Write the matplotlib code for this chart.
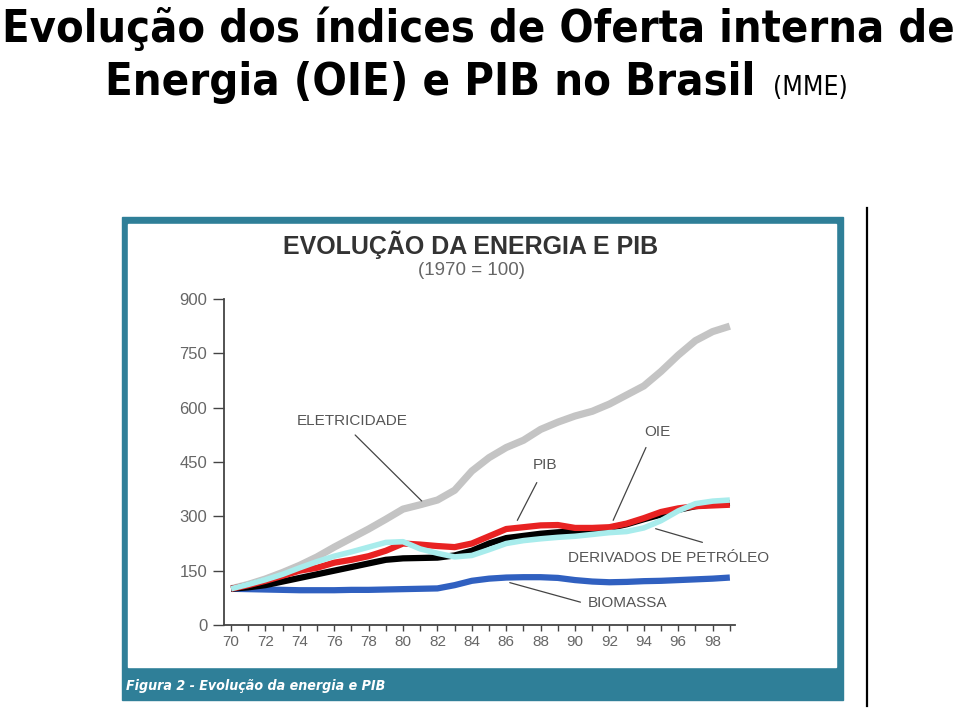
import numpy as np
import matplotlib
matplotlib.use("Agg")
import matplotlib.pyplot as plt
from matplotlib.patches import Rectangle
from matplotlib.lines import Line2D
from matplotlib import font_manager
from matplotlib.font_manager import FontProperties

plt.rcParams["font.family"] = ["Liberation Sans", "DejaVu Sans"]

# Data (1970 = 100)
anos = list(range(70, 100))
eletricidade = [100, 112, 127, 145, 165, 188, 215, 240, 265, 292,
                320, 332, 345, 372, 425, 462, 490, 510, 540, 560,
                577, 590, 610, 635, 660, 700, 745, 785, 810, 825]
pib = [100, 110, 122, 136, 150, 158, 172, 180, 190, 205,
       225, 222, 218, 215, 225, 245, 265, 270, 275, 276,
       268, 268, 270, 280, 295, 312, 322, 328, 330, 332]
oie = [100, 104, 110, 120, 130, 140, 150, 160, 170, 180,
       184, 185, 186, 192, 205, 225, 240, 246, 252, 256,
       258, 262, 268, 278, 292, 305, 318, 328, 333, 337]
derivados = [100, 112, 125, 140, 158, 175, 190, 202, 215, 228,
             230, 210, 198, 188, 192, 208, 225, 233, 238, 242,
             245, 250, 255, 258, 268, 288, 315, 335, 342, 345]
biomassa = [100, 99, 98, 97, 96, 96, 96, 97, 97, 98,
            99, 100, 101, 110, 122, 128, 131, 132, 132, 130,
            124, 120, 118, 119, 121, 122, 124, 126, 128, 131]

y_ticks = [0, 150, 300, 450, 600, 750, 900]
x_labels = list(range(70, 100, 2))


# look for a narrow / condensed sans font, else plain Liberation Sans
def find_font(bold=False, italic=False):
    best = None
    for f in font_manager.fontManager.ttflist:
        fn = f.fname.lower()
        if ("narrow" in fn or "condensed" in fn) and "sans" in fn and "mono" not in fn:
            is_bold = f.weight in ("bold", 700, "heavy", 800) or "bold" in fn
            is_it = f.style in ("italic", "oblique")
            if is_bold == bold and is_it == italic:
                return FontProperties(fname=f.fname)
            if best is None and is_bold == bold:
                best = FontProperties(fname=f.fname, style="italic" if italic else "normal")
    if best is not None:
        return best
    return FontProperties(family="Liberation Sans", weight="bold" if bold else "normal",
                          style="italic" if italic else "normal")


fp_bold = find_font(bold=True)
fp_reg = find_font(bold=False)
fp_bi = find_font(bold=True, italic=True)

W, H = 960, 709
fig = plt.figure(figsize=(W / 100, H / 100), dpi=100)
renderer = fig.canvas.get_renderer()


def fx(x):
    return x / W


def fy(y):
    return 1 - y / H


def fit_text(x, y, s, fp, width, maxsize, **kw):
    # put a text and shrink it so it takes the given width in pixels
    t = fig.text(fx(x), fy(y), s, fontproperties=fp.copy(), **kw)
    t.set_fontsize(maxsize)
    w = t.get_window_extent(renderer).width
    if w > width:
        t.set_fontsize(maxsize * width / w)
    return t


# Slide title
fit_text(2, 42, "Evolução dos índices de Oferta interna de", fp_bold, 953, 41,
         ha="left", va="baseline")
fit_text(105, 95, "Energia (OIE) e PIB no Brasil", fp_bold, 652, 41,
         ha="left", va="baseline")
fit_text(773, 95, "(MME)", fp_reg, 82, 19, ha="left", va="baseline")

# Teal frame with white inner panel
teal = "#2f7f98"
fig.add_artist(Rectangle((fx(122), fy(700)), fx(843 - 122), (700 - 217) / H,
                         transform=fig.transFigure, color=teal, zorder=0))
fig.add_artist(Rectangle((fx(127.5), fy(666.5)), fx(835.5 - 127.5), (666.5 - 224) / H,
                         transform=fig.transFigure, color="white", zorder=0))
fit_text(126, 690, "Figura 2 - Evolução da energia e PIB", fp_bi, 260, 15,
         color="white", ha="left", va="baseline")

# black vertical line on the right
fig.add_artist(Line2D([fx(867), fx(867)], [fy(208), fy(706)],
                      transform=fig.transFigure, color="black", lw=1.6))

# Inner chart title
fig.text(fx(471), fy(245), "EVOLUÇÃO DA ENERGIA E PIB", family="Liberation Sans",
         weight="bold", fontsize=18, color="#333333", ha="center", va="center")
fig.text(fx(471), fy(270), "(1970 = 100)", family="Liberation Sans", fontsize=13.5,
         color="#666666", ha="center", va="center")

# Plot axes
ax = fig.add_axes([fx(224), fy(625), fx(735 - 224), (625 - 299) / H])
ax.patch.set_alpha(0)

ax.plot(anos, eletricidade, color="#c4c4c4", lw=5.2, solid_capstyle="butt", zorder=2)
ax.plot(anos, biomassa, color="#3060c0", lw=4.5, solid_capstyle="butt", zorder=3)
ax.plot(anos, oie, color="black", lw=4.5, solid_capstyle="butt", zorder=4)
ax.plot(anos, pib, color="#e82222", lw=4.5, solid_capstyle="butt", zorder=5)
ax.plot(anos, derivados, color="#a8ecec", lw=4.0, solid_capstyle="butt", zorder=6)

ax.set_xlim(69.59, 99.3)
ax.set_ylim(0, 900)
ax.set_yticks(y_ticks)
ax.set_xticks(anos)
ax.set_xticklabels([str(a) if a in x_labels else "" for a in anos])
for s in ["top", "right"]:
    ax.spines[s].set_visible(False)
for s in ["left", "bottom"]:
    ax.spines[s].set_color("#444444")
    ax.spines[s].set_linewidth(1.3)
ax.tick_params(axis="y", length=8, width=1, color="#444444", labelcolor="#666666",
               labelsize=12, pad=4)
ax.tick_params(axis="x", length=4, width=1, color="#444444", labelcolor="#666666",
               labelsize=11, pad=3)

# Labels with leader lines
lab = dict(color="#555555", fontsize=11, family="Liberation Sans")
line = dict(arrowstyle="-", color="#444444", lw=0.9)
ax.text(77.03, 563, "ELETRICIDADE", ha="center", va="center", **lab)
ax.annotate("", xy=(81.2, 337), xytext=(77.1, 530), arrowprops=line)
ax.text(88.26, 442, "PIB", ha="center", va="center", **lab)
ax.annotate("", xy=(86.57, 282), xytext=(87.85, 400), arrowprops=line)
ax.text(94.77, 533, "OIE", ha="center", va="center", **lab)
ax.annotate("", xy=(92.15, 282), xytext=(94.19, 497), arrowprops=line)
ax.text(89.6, 185, "DERIVADOS DE PETRÓLEO", ha="left", va="center", **lab)
ax.annotate("", xy=(94.53, 268), xytext=(97.56, 226), arrowprops=line)
ax.text(90.76, 61, "BIOMASSA", ha="left", va="center", **lab)
ax.annotate("", xy=(86.05, 119), xytext=(90.47, 61), arrowprops=line)

fig.savefig("out.png", dpi=100)
